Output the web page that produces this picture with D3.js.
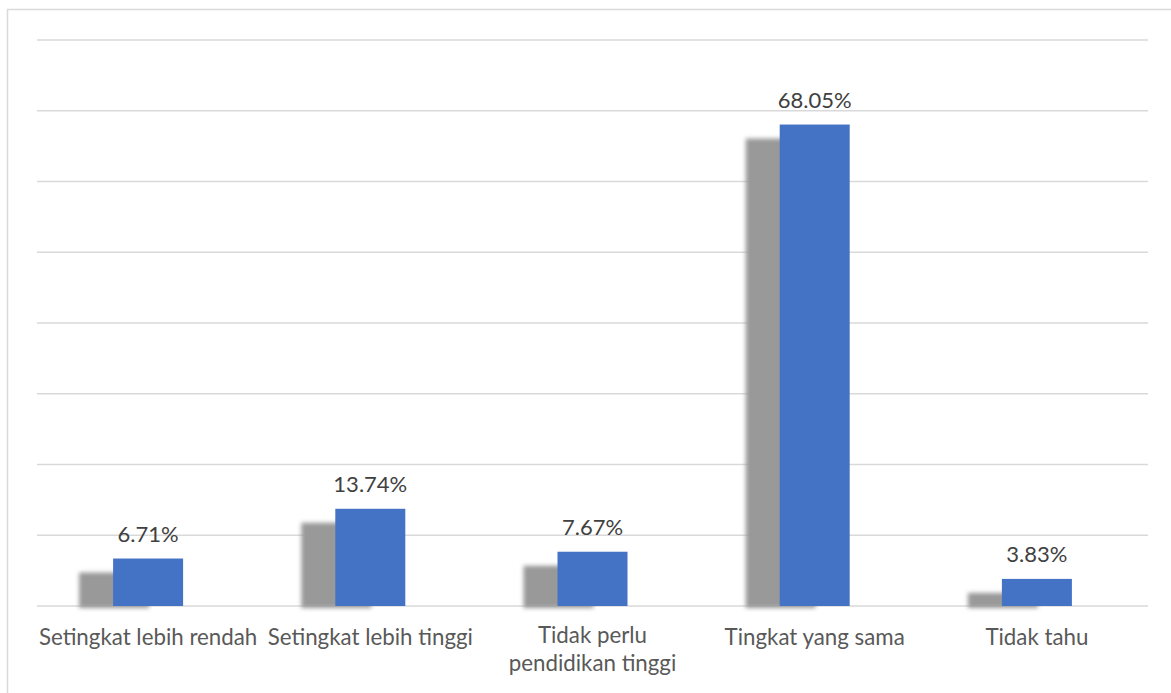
<!DOCTYPE html>
<html><head><meta charset="utf-8">
<script src="https://cdn.jsdelivr.net/npm/d3@7"></script>
<style>html,body{margin:0;padding:0;background:#fff;}svg{display:block;}</style>
</head><body>
<svg id="c" width="1171" height="693"></svg>
<script>
const categories = [["Setingkat lebih rendah"], ["Setingkat lebih tinggi"], ["Tidak perlu", "pendidikan tinggi"], ["Tingkat yang sama"], ["Tidak tahu"]];
const values = [6.71, 13.74, 7.67, 68.05, 3.83];
const labels = ["6.71%", "13.74%", "7.67%", "68.05%", "3.83%"];
const yTicks = [0, 10, 20, 30, 40, 50, 60, 70, 80];

(function () {
const svg = d3.select("#c");
const W = 1171, H = 693;
const mLeft = 37, mRight = 1148, mTop = 40, mBottom = 606;
const font = "Lato, 'Open Sans', sans-serif";

svg.append("rect").attr("x", 7.5).attr("y", 9.5).attr("width", W).attr("height", H)
  .attr("fill", "none").attr("stroke", "#d9d9d9").attr("stroke-width", 1.5);

const x = d3.scaleBand().domain(d3.range(values.length)).range([mLeft, mRight]).paddingInner(0).paddingOuter(0);
const y = d3.scaleLinear().domain([0, 80]).range([mBottom, mTop]);

svg.append("g").selectAll("line").data(yTicks).join("line")
  .attr("x1", mLeft).attr("x2", mRight)
  .attr("y1", d => y(d)).attr("y2", d => y(d))
  .attr("stroke", "#d9d9d9").attr("stroke-width", 1.5);

const defs = svg.append("defs");
const f = defs.append("filter").attr("id", "blur").attr("x", "-20%").attr("y", "-20%").attr("width", "140%").attr("height", "140%");
f.append("feGaussianBlur").attr("stdDeviation", 2);

const barW = 70;
const cx = i => x(i) + x.bandwidth() / 2;

svg.append("g").attr("filter", "url(#blur)").selectAll("rect").data(values).join("rect")
  .attr("x", (d, i) => cx(i) - barW / 2 - 34)
  .attr("y", d => y(d) + 14)
  .attr("width", barW)
  .attr("height", d => mBottom - y(d) - 14 + 2)
  .attr("fill", "#999999");

svg.append("g").selectAll("rect").data(values).join("rect")
  .attr("x", (d, i) => cx(i) - barW / 2)
  .attr("y", d => y(d))
  .attr("width", barW)
  .attr("height", d => mBottom - y(d))
  .attr("fill", "#4472c4");

svg.append("g").selectAll("text").data(values).join("text")
  .attr("x", (d, i) => cx(i))
  .attr("y", d => y(d) - 17)
  .attr("text-anchor", "middle")
  .attr("font-family", font).attr("font-size", 22)
  .attr("fill", "#404040")
  .text((d, i) => labels[i]);

const cg = svg.append("g").selectAll("text").data(categories).join("text")
  .attr("x", (d, i) => cx(i))
  .attr("y", d => d.length > 1 ? 643 : 645)
  .attr("text-anchor", "middle")
  .attr("font-family", font).attr("font-size", 22.3)
  .attr("fill", "#595959");
cg.selectAll("tspan").data(d => d).join("tspan")
  .attr("x", function () { return d3.select(this.parentNode).attr("x"); })
  .attr("dy", (d, j) => j === 0 ? 0 : 28)
  .text(d => d);
})();
</script>
</body></html>
